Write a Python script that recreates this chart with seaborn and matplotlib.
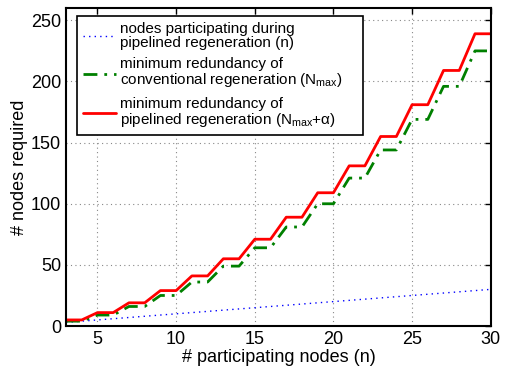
import matplotlib
matplotlib.use("Agg")
import matplotlib.pyplot as plt
import seaborn as sns
import pandas as pd

n_nodes = list(range(3, 31))
participating = list(range(3, 31))
conventional = [4, 4, 9, 9, 16, 16, 25, 25, 36, 36, 49, 49, 64, 64, 81, 81,
                100, 100, 121, 121, 144, 144, 169, 169, 196, 196, 225, 225]
pipelined = [5, 5, 11, 11, 19, 19, 29, 29, 41, 41, 55, 55, 71, 71, 89, 89,
             109, 109, 131, 131, 155, 155, 181, 181, 209, 209, 239, 239]

labels = [
    "nodes participating during\npipelined regeneration (n)",
    "minimum redundancy of\nconventional regeneration ($\\mathregular{N_{max}}$)",
    "minimum redundancy of\npipelined regeneration ($\\mathregular{N_{max}}$+$\\mathregular{\\alpha}$)",
]
x_ticks = [5, 10, 15, 20, 25, 30]
y_ticks = [0, 50, 100, 150, 200, 250]

sns.set_style("white")
plt.rcParams["font.family"] = ["Liberation Sans", "DejaVu Sans"]
plt.rcParams["mathtext.fontset"] = "custom"
plt.rcParams["mathtext.rm"] = "Liberation Sans"
plt.rcParams["mathtext.it"] = "Liberation Sans:italic"
plt.rcParams["text.color"] = "black"
plt.rcParams["axes.labelcolor"] = "black"
plt.rcParams["xtick.color"] = "black"
plt.rcParams["ytick.color"] = "black"

df = pd.DataFrame({"n": n_nodes, "a": participating, "b": conventional, "c": pipelined})

fig = plt.figure(figsize=(5.08, 3.68), dpi=100)
ax = fig.add_axes([0.13, 0.114, 0.836, 0.864])

sns.lineplot(data=df, x="n", y="a", ax=ax, color=(0, 0, 1), lw=1.0,
             linestyle=(0, (1, 3)), label=labels[0])
sns.lineplot(data=df, x="n", y="b", ax=ax, color=(0, 0.5, 0), lw=2.0,
             linestyle=(0, (5, 2.5, 1, 2.5)), label=labels[1])
sns.lineplot(data=df, x="n", y="c", ax=ax, color=(1, 0, 0), lw=2.0,
             linestyle="-", label=labels[2])

ax.set_xlim(3, 30)
ax.set_ylim(0, 260)
ax.set_xticks(x_ticks)
ax.set_yticks(y_ticks)
ax.grid(True, color="#888888", linestyle=(0, (1, 3)), linewidth=0.8)
ax.tick_params(direction="in", length=4, labelsize=13, top=True, right=True,
               color="black", width=1)
for s in ax.spines.values():
    s.set_color("black")
    s.set_linewidth(1.5)
ax.set_xlabel("# participating nodes (n)", fontsize=13, labelpad=1)
ax.set_ylabel("# nodes required", fontsize=13, labelpad=2)

leg = ax.legend(loc="upper left", bbox_to_anchor=(0.025, 0.976, 0.674, 0.0),
                mode="expand", fontsize=11, frameon=True, fancybox=False,
                edgecolor="black", framealpha=1, handlelength=2.15,
                borderaxespad=0.0, labelspacing=0.5, handletextpad=0.28,
                borderpad=0.4)
leg.get_frame().set_linewidth(1.2)
for t in leg.get_texts():
    t.set_linespacing(1.0)

fig.savefig("out.png", dpi=100)
